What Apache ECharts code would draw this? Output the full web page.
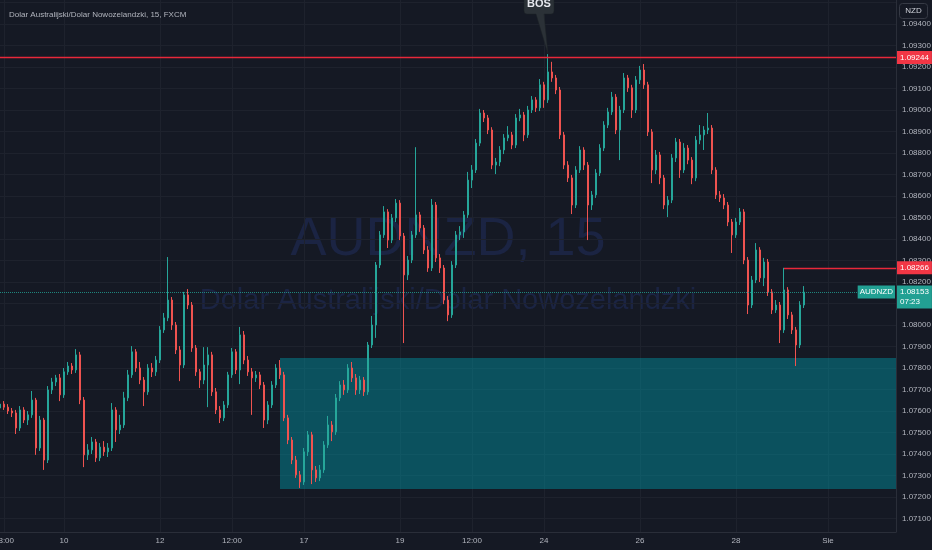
<!DOCTYPE html>
<html>
<head>
<meta charset="utf-8">
<script src="https://cdn.jsdelivr.net/npm/echarts@6/dist/echarts.min.js"></script>
<style>
html,body{margin:0;padding:0;background:#151924;}
#chart{width:932px;height:550px;}
</style>
</head>
<body>
<div id="chart"></div>
<script>
// ---- data (AUDNZD, aggregated candles) ----
const openP = [
1.07614,1.07632,1.07618,1.07600,1.07591,1.07521,1.07605,1.07558,1.07582,1.07651,
1.07428,1.07558,1.07372,1.07698,1.07735,1.07754,1.07675,1.07782,1.07809,1.07791,
1.07861,1.07651,1.07396,1.07419,1.07456,1.07382,1.07432,1.07410,1.07428,1.07605,
1.07512,1.07535,1.07661,1.07768,1.07875,1.07800,1.07744,1.07689,1.07800,1.07782,
1.07837,1.07977,1.08033,1.08116,1.08000,1.07884,1.07814,1.08140,1.08093,1.07893,
1.07782,1.07744,1.07814,1.07861,1.07689,1.07605,1.07568,1.07628,1.07768,1.07875,
1.07791,1.07954,1.07837,1.07782,1.07754,1.07768,1.07721,1.07558,1.07628,1.07721,
1.07800,1.07768,1.07568,1.07465,1.07372,1.07303,1.07270,1.07410,1.07489,1.07326,
1.07289,1.07326,1.07442,1.07535,1.07503,1.07661,1.07721,1.07698,1.07800,1.07754,
1.07698,1.07744,1.07689,1.07907,1.08000,1.08279,1.08419,1.08526,1.08395,1.08498,
1.08567,1.08414,1.08233,1.08302,1.08419,1.08512,1.08451,1.08349,1.08265,1.08558,
1.08312,1.08265,1.08116,1.08047,1.08279,1.08419,1.08433,1.08512,1.08674,1.08721,
1.08846,1.08986,1.08963,1.08907,1.08744,1.08758,1.08814,1.08870,1.08884,1.08837,
1.08963,1.08977,1.08884,1.09000,1.09047,1.09010,1.09117,1.09047,1.09177,1.09149,
1.09093,1.08884,1.08744,1.08684,1.08558,1.08721,1.08814,1.08744,1.08558,1.08605,
1.08707,1.08823,1.08930,1.08991,1.09060,1.08907,1.09000,1.09149,1.09103,1.09000,
1.09140,1.09186,1.09117,1.08898,1.08721,1.08791,1.08684,1.08558,1.08581,1.08777,
1.08851,1.08721,1.08823,1.08767,1.08684,1.08860,1.08884,1.08907,1.08916,1.08721,
1.08605,1.08591,1.08558,1.08479,1.08419,1.08479,1.08526,1.08302,1.08093,1.08209,
1.08349,1.08219,1.08293,1.08154,1.08070,1.08093,1.07977,1.08163,1.08047,1.07977,
1.07907,1.08093
];
const closeP = [
1.07632,1.07618,1.07600,1.07591,1.07521,1.07605,1.07558,1.07582,1.07651,1.07428,
1.07558,1.07372,1.07698,1.07735,1.07754,1.07675,1.07782,1.07809,1.07791,1.07861,
1.07651,1.07396,1.07419,1.07456,1.07382,1.07432,1.07410,1.07428,1.07605,1.07512,
1.07535,1.07661,1.07768,1.07875,1.07800,1.07744,1.07689,1.07800,1.07782,1.07837,
1.07977,1.08033,1.08116,1.08000,1.07884,1.07814,1.08140,1.08093,1.07893,1.07782,
1.07744,1.07814,1.07861,1.07689,1.07605,1.07568,1.07628,1.07768,1.07875,1.07791,
1.07954,1.07837,1.07782,1.07754,1.07768,1.07721,1.07558,1.07628,1.07721,1.07800,
1.07768,1.07568,1.07465,1.07372,1.07303,1.07270,1.07410,1.07489,1.07326,1.07289,
1.07326,1.07442,1.07535,1.07503,1.07661,1.07721,1.07698,1.07800,1.07754,1.07698,
1.07744,1.07689,1.07907,1.08000,1.08279,1.08419,1.08526,1.08395,1.08498,1.08567,
1.08414,1.08233,1.08302,1.08419,1.08512,1.08451,1.08349,1.08265,1.08558,1.08312,
1.08265,1.08116,1.08047,1.08279,1.08419,1.08433,1.08512,1.08674,1.08721,1.08846,
1.08986,1.08963,1.08907,1.08744,1.08758,1.08814,1.08870,1.08884,1.08837,1.08963,
1.08977,1.08884,1.09000,1.09047,1.09010,1.09117,1.09047,1.09177,1.09149,1.09093,
1.08884,1.08744,1.08684,1.08558,1.08721,1.08814,1.08744,1.08558,1.08605,1.08707,
1.08823,1.08930,1.08991,1.09060,1.08907,1.09000,1.09149,1.09103,1.09000,1.09140,
1.09186,1.09117,1.08898,1.08721,1.08791,1.08684,1.08558,1.08581,1.08777,1.08851,
1.08721,1.08823,1.08767,1.08684,1.08860,1.08884,1.08907,1.08916,1.08721,1.08605,
1.08591,1.08558,1.08479,1.08419,1.08479,1.08526,1.08302,1.08093,1.08209,1.08349,
1.08219,1.08293,1.08154,1.08070,1.08093,1.07977,1.08163,1.08047,1.07977,1.07907,
1.08093,1.08153
];
const lowP = [
1.07600,1.07605,1.07586,1.07572,1.07493,1.07507,1.07544,1.07535,1.07568,1.07396,
1.07414,1.07326,1.07358,1.07679,1.07716,1.07646,1.07661,1.07768,1.07772,1.07777,
1.07632,1.07339,1.07372,1.07400,1.07363,1.07367,1.07391,1.07386,1.07414,1.07456,
1.07493,1.07521,1.07646,1.07754,1.07782,1.07725,1.07623,1.07675,1.07758,1.07763,
1.07823,1.07963,1.08018,1.07977,1.07865,1.07739,1.07800,1.08074,1.07875,1.07763,
1.07707,1.07725,1.07618,1.07670,1.07586,1.07544,1.07553,1.07614,1.07754,1.07772,
1.07725,1.07818,1.07763,1.07582,1.07735,1.07702,1.07521,1.07539,1.07614,1.07707,
1.07749,1.07553,1.07446,1.07353,1.07289,1.07242,1.07256,1.07391,1.07260,1.07270,
1.07274,1.07312,1.07428,1.07460,1.07489,1.07646,1.07675,1.07684,1.07735,1.07675,
1.07679,1.07670,1.07675,1.07893,1.07940,1.08265,1.08405,1.08358,1.08381,1.08479,
1.08395,1.07916,1.08209,1.08288,1.08405,1.08433,1.08330,1.08247,1.08251,1.08293,
1.08242,1.08097,1.08018,1.08033,1.08265,1.08395,1.08405,1.08498,1.08637,1.08707,
1.08832,1.08944,1.08888,1.08725,1.08702,1.08739,1.08795,1.08855,1.08818,1.08823,
1.08948,1.08855,1.08870,1.08986,1.08991,1.08995,1.09010,1.09033,1.09131,1.09074,
1.08865,1.08725,1.08665,1.08516,1.08544,1.08707,1.08721,1.08395,1.08535,1.08591,
1.08693,1.08809,1.08916,1.08977,1.08888,1.08767,1.08986,1.09084,1.08963,1.08986,
1.09121,1.09098,1.08879,1.08660,1.08702,1.08655,1.08539,1.08502,1.08567,1.08758,
1.08684,1.08707,1.08748,1.08655,1.08669,1.08841,1.08814,1.08888,1.08702,1.08586,
1.08572,1.08539,1.08460,1.08335,1.08405,1.08465,1.08283,1.08051,1.08079,1.08195,
1.08200,1.08181,1.08135,1.08051,1.08056,1.07916,1.07963,1.08028,1.07958,1.07809,
1.07893,1.08079
];
const highP = [
1.07651,1.07646,1.07632,1.07614,1.07605,1.07623,1.07618,1.07600,1.07693,1.07661,
1.07577,1.07568,1.07716,1.07754,1.07768,1.07772,1.07800,1.07828,1.07823,1.07888,
1.07875,1.07665,1.07446,1.07479,1.07470,1.07451,1.07460,1.07451,1.07637,1.07618,
1.07582,1.07689,1.07791,1.07902,1.07888,1.07828,1.07758,1.07818,1.07823,1.07856,
1.07995,1.08056,1.08316,1.08130,1.08014,1.07902,1.08154,1.08167,1.08107,1.07907,
1.07795,1.07897,1.07897,1.07875,1.07707,1.07623,1.07646,1.07782,1.07893,1.07888,
1.07991,1.07972,1.07856,1.07800,1.07786,1.07782,1.07735,1.07646,1.07739,1.07818,
1.07837,1.07782,1.07582,1.07479,1.07391,1.07321,1.07428,1.07507,1.07503,1.07344,
1.07349,1.07460,1.07577,1.07553,1.07679,1.07739,1.07744,1.07818,1.07828,1.07772,
1.07763,1.07758,1.07921,1.08042,1.08293,1.08437,1.08553,1.08539,1.08516,1.08586,
1.08581,1.08428,1.08321,1.08437,1.08827,1.08526,1.08465,1.08367,1.08586,1.08572,
1.08330,1.08279,1.08135,1.08297,1.08437,1.08460,1.08530,1.08712,1.08744,1.08865,
1.09005,1.09000,1.08977,1.08920,1.08777,1.08832,1.08888,1.08925,1.08898,1.08981,
1.09005,1.08991,1.09019,1.09065,1.09060,1.09144,1.09131,1.09260,1.09224,1.09163,
1.09107,1.08898,1.08762,1.08698,1.08739,1.08832,1.08827,1.08758,1.08623,1.08725,
1.08841,1.08948,1.09010,1.09084,1.09074,1.09019,1.09172,1.09163,1.09117,1.09158,
1.09205,1.09214,1.09131,1.08911,1.08814,1.08805,1.08698,1.08600,1.08795,1.08870,
1.08865,1.08846,1.08837,1.08781,1.08879,1.08930,1.08925,1.08986,1.08930,1.08734,
1.08623,1.08609,1.08572,1.08493,1.08498,1.08544,1.08539,1.08316,1.08228,1.08381,
1.08362,1.08312,1.08307,1.08167,1.08116,1.08107,1.08266,1.08176,1.08061,1.07991,
1.08111,1.08181
];

const slotCount = 225;                       // time slots on the axis (incl. empty future space)
const tickSlots  = [1, 16, 40, 58, 76, 100, 118, 136, 160, 184, 207];
const tickLabels = ['18:00', '10', '12', '12:00', '17', '19', '12:00', '24', '26', '28', 'Sie'];

const priceMin = 1.070372, priceMax = 1.095116, priceStep = 0.001;
const lastShownPrice = 1.094;

const bosLevel = 1.09244;
const bosSlot = 137, bosHigh = 1.09260;
const swingLevel = 1.08266, swingSlot = 196;
const lastPrice = 1.08153, lastTime = '07:23';
const zoneTop = 1.07847, zoneBottom = 1.07237, zoneStartSlot = 70;

const titleText = 'Dolar Australijski/Dolar Nowozelandzki, 15, FXCM';
const wmMain = 'AUDNZD, 15';
const wmSub = 'Dolar Australijski/Dolar Nowozelandzki';
const currency = 'NZD';
const symbolName = 'AUDNZD';

// ---- build ----
const categories = Array.from({length: slotCount}, (_, i) => String(i));
const candles = openP.map((o, i) => [o, closeP[i], lowP[i], highP[i]]);
const tickMap = new Map(tickSlots.map((s, k) => [s, tickLabels[k]]));
const firstCat = categories[0], lastCat = categories[slotCount - 1];

const FONT = 'Liberation Sans, Arial, sans-serif';
const UP = '#26a69a', DOWN = '#ef5350', TEAL = '#22a093', RED = '#f23645', LINE_RED = '#e8283a';

const bubblePath = 'path://M3,0L27,0Q30,0 30,3L30,17Q30,20 27,20L20,20L24,60L12,20L3,20Q0,20 0,17L0,3Q0,0 3,0Z';

const redLabel = (v) => ({show: true, position: 'end', distance: 1, formatter: v.toFixed(5),
  backgroundColor: RED, color: '#ffffff', fontSize: 8, fontFamily: FONT, padding: [3, 3, 2, 3]});
const redLine = () => ({color: LINE_RED, width: 1.4, type: 'solid', opacity: 1});

const chart = echarts.init(document.getElementById('chart'), null, {renderer: 'canvas'});
chart.setOption({
  animation: false,
  backgroundColor: '#151924',
  title: {
    text: titleText, left: 4, top: 6,
    textStyle: {color: '#b2b5be', fontSize: 8, fontWeight: 'normal', fontFamily: FONT}
  },
  graphic: [
    {type: 'text', z: 0, x: 448, y: 240, silent: true,
     style: {text: wmMain, fill: '#1b2443', font: '54px ' + FONT, align: 'center', verticalAlign: 'middle'}},
    {type: 'text', z: 0, x: 448, y: 301, silent: true,
     style: {text: wmSub, fill: '#1b2443', font: '29px ' + FONT, align: 'center', verticalAlign: 'middle'}},
    {type: 'rect', z: 10, silent: true, shape: {x: 899.5, y: 3.5, width: 28, height: 15, r: 3},
     style: {fill: '#151924', stroke: '#363a45', lineWidth: 1}},
    {type: 'text', z: 11, x: 913.5, y: 11, silent: true,
     style: {text: currency, fill: '#d1d4dc', font: '8px ' + FONT, align: 'center', verticalAlign: 'middle'}}
  ],
  grid: {left: 0, right: 36, top: 0, bottom: 18, containLabel: false, outerBoundsMode: 'none'},
  xAxis: {
    type: 'category', data: categories, boundaryGap: false,
    axisLine: {show: true, lineStyle: {color: '#2a2e39'}},
    axisTick: {show: false},
    axisLabel: {
      color: '#b2b5be', fontSize: 8, fontFamily: FONT, margin: 5,
      interval: (idx) => tickMap.has(idx),
      formatter: (v, idx) => tickMap.get(idx) || ''
    },
    splitLine: {show: true, interval: (idx) => tickMap.has(idx), lineStyle: {color: '#1e222d'}}
  },
  yAxis: {
    type: 'value', position: 'right', scale: true,
    min: priceMin, max: priceMax, minInterval: priceStep, maxInterval: priceStep,
    axisLine: {show: true, lineStyle: {color: '#2a2e39'}},
    axisTick: {show: false},
    axisLabel: {
      color: '#b2b5be', fontSize: 8, fontFamily: FONT, margin: 6,
      showMinLabel: false, showMaxLabel: false,
      formatter: (v) => (v > lastShownPrice + 0.0005 ? '' : v.toFixed(5))
    },
    splitLine: {show: true, showMinLine: false, showMaxLine: false, lineStyle: {color: '#1e222d'}}
  },
  series: [{
    type: 'candlestick',
    data: candles,
    barWidth: 2,
    z: 3,
    itemStyle: {color: UP, color0: DOWN, borderColor: UP, borderColor0: DOWN, borderWidth: 1},
    markArea: {
      silent: true,
      label: {show: false},
      itemStyle: {color: 'rgba(0,150,166,0.45)'},
      data: [[
        {xAxis: String(zoneStartSlot), yAxis: zoneTop},
        {xAxis: lastCat, yAxis: zoneBottom}
      ]]
    },
    markLine: {
      silent: true, symbol: ['none', 'none'], animation: false, precision: 5,
      data: [
        [
          {coord: [firstCat, bosLevel], lineStyle: redLine(), label: redLabel(bosLevel)},
          {coord: [lastCat, bosLevel], lineStyle: redLine()}
        ],
        [
          {coord: [String(swingSlot), swingLevel], lineStyle: redLine(), label: redLabel(swingLevel)},
          {coord: [lastCat, swingLevel], lineStyle: redLine()}
        ],
        {yAxis: lastPrice,
         lineStyle: {color: TEAL, width: 1, type: 'dotted', opacity: 0.8},
         label: {show: true, position: 'end', distance: 1, formatter: lastPrice.toFixed(5) + '\n' + lastTime,
                 offset: [0, 5], opacity: 1,
                 backgroundColor: TEAL, color: '#ffffff', fontSize: 8, fontFamily: FONT, lineHeight: 10, padding: [2, 3, 1, 3]}},
        {yAxis: lastPrice,
         lineStyle: {color: 'rgba(0,0,0,0)', width: 0},
         label: {show: true, position: 'insideEnd', distance: 1, formatter: symbolName, opacity: 1,
                 backgroundColor: TEAL, color: '#ffffff', fontSize: 8, fontFamily: FONT, padding: [3, 2, 2, 2]}}
      ]
    },
    markPoint: {
      silent: true, animation: false,
      data: [{
        coord: [String(bosSlot), bosHigh],
        symbol: bubblePath, symbolSize: [30, 60], symbolOffset: [-9, -30],
        itemStyle: {color: '#2b3137', borderColor: '#1d2226', borderWidth: 0.5},
        label: {show: true, formatter: 'BOS', position: 'inside', offset: [0, -20],
                color: '#e6e8ee', fontSize: 11, fontWeight: 'bold', fontFamily: FONT}
      }]
    }
  }]
});
</script>
</body>
</html>
